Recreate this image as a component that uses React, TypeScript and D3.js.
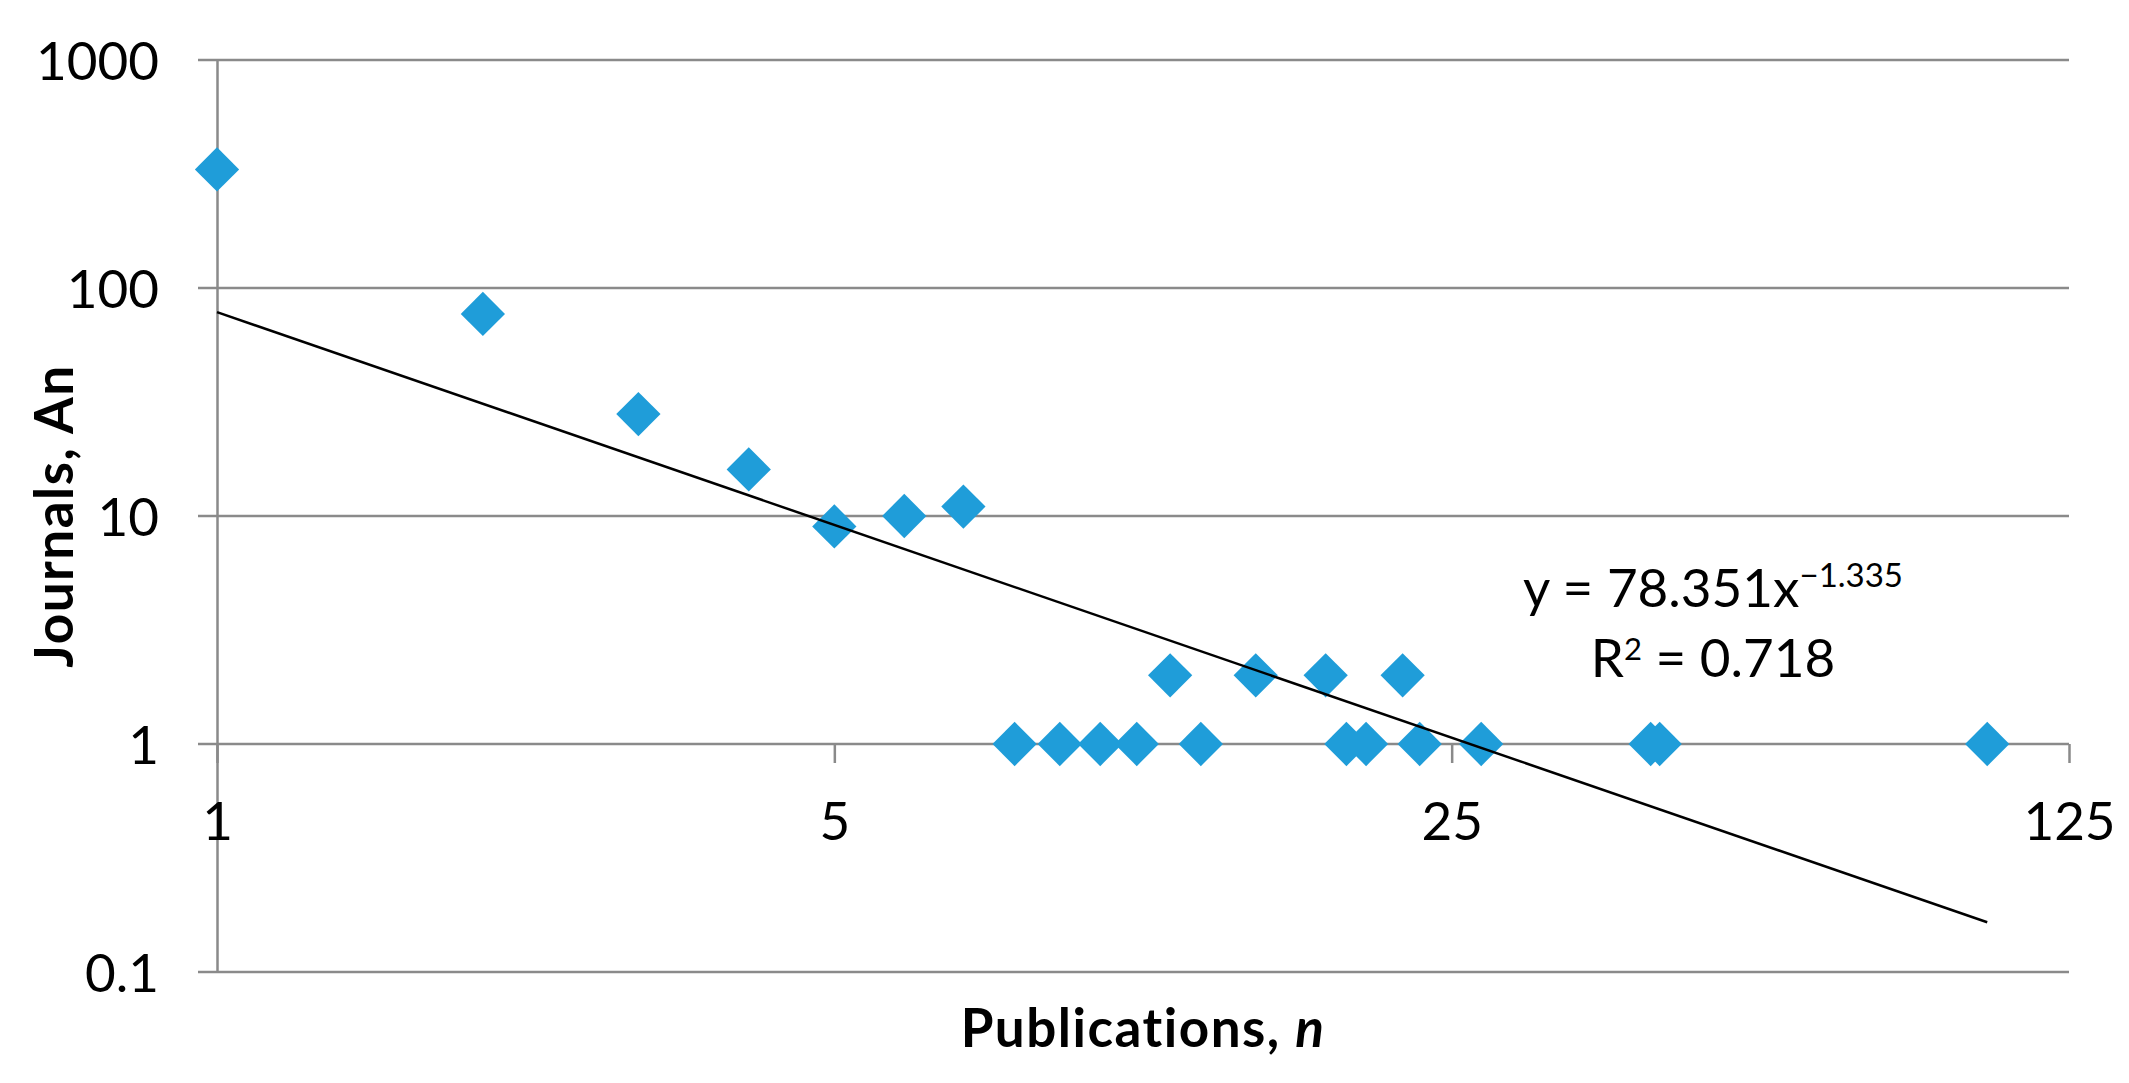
import React, { useEffect, useRef } from "react";
import * as d3 from "d3";

// values
const publications = [1, 2, 3, 4, 5, 6, 7, 8, 9, 10, 11, 12, 13, 15, 18, 19, 20, 22, 23, 27, 42, 43, 101];
const journals = [331, 77, 28, 16, 9, 10, 11, 1, 1, 1, 1, 2, 1, 2, 2, 1, 1, 2, 1, 1, 1, 1, 1];
const xTicks = [1, 5, 25, 125];
const yTicks = [0.1, 1, 10, 100, 1000];
// power trendline shown on the chart
const fitCoef = 78.351;
const fitExp = -1.335;
const fitR2 = 0.718;

const FONT = "Lato, 'Open Sans', sans-serif";

const App = () => {
  const svgRef = useRef<SVGSVGElement>(null);

  useEffect(() => {
    const svg = d3.select(svgRef.current);
    svg.selectAll("*").remove();

    const width = 2129;
    const height = 1083;
    const margin = { top: 60, right: 60, bottom: 111, left: 217 };
    const grid = "#8a8a8a";

    svg.attr("width", width).attr("height", height)
      .style("font-variant-ligatures", "none");

    const x = d3.scaleLog().base(5)
      .domain([1, 125])
      .range([margin.left, width - margin.right]);

    const y = d3.scaleLog()
      .domain([0.1, 1000])
      .range([height - margin.bottom, margin.top]);

    // horizontal gridlines (they also carry the left tick marks)
    svg.append("g")
      .selectAll("line")
      .data(yTicks)
      .join("line")
      .attr("x1", margin.left - 19)
      .attr("x2", width - margin.right)
      .attr("y1", d => y(d))
      .attr("y2", d => y(d))
      .attr("stroke", grid)
      .attr("stroke-width", 2.5);

    // y axis
    const yAxis = svg.append("g")
      .attr("transform", `translate(${margin.left},0)`)
      .call(d3.axisLeft(y).tickValues(yTicks).tickFormat(d => String(d)).tickSizeInner(0).tickSizeOuter(0));
    yAxis.select(".domain").attr("stroke", grid).attr("stroke-width", 2.5);
    yAxis.selectAll(".tick line").remove();
    yAxis.selectAll("text")
      .attr("x", -58)
      .attr("dy", "0.36em")
      .style("font-family", FONT)
      .style("font-size", "53px")
      .style("fill", "#000");

    // x axis crosses at y = 1
    const xAxis = svg.append("g")
      .attr("transform", `translate(0,${y(1)})`)
      .call(d3.axisBottom(x).tickValues(xTicks).tickFormat(d => String(d)).tickSizeInner(19).tickSizeOuter(0));
    xAxis.select(".domain").remove();
    xAxis.selectAll(".tick line").attr("stroke", grid).attr("stroke-width", 2.5);
    xAxis.selectAll("text")
      .attr("y", 96)
      .attr("dy", 0)
      .style("font-family", FONT)
      .style("font-size", "53px")
      .style("fill", "#000");

    // points
    const data = publications.map((n, i) => ({ n, a: journals[i] }));
    svg.append("g")
      .selectAll("path")
      .data(data)
      .join("path")
      .attr("d", d3.symbol(d3.symbolSquare, 980)())
      .attr("transform", d => `translate(${x(d.n)},${y(d.a)}) rotate(45)`)
      .attr("fill", "#1f9dd9");

    // trendline over the data range
    const fitRange = [d3.min(publications) as number, d3.max(publications) as number];
    const fitLine = d3.line<number>()
      .x(d => x(d))
      .y(d => y(fitCoef * Math.pow(d, fitExp)));
    svg.append("path")
      .datum(fitRange)
      .attr("d", fitLine)
      .attr("fill", "none")
      .attr("stroke", "#000")
      .attr("stroke-width", 2.5);

    // equation label
    const eqX = 1713;
    const eq1 = svg.append("text")
      .attr("x", eqX)
      .attr("y", 607)
      .attr("text-anchor", "middle")
      .style("font-family", FONT)
      .style("font-size", "53px")
      .style("fill", "#000");
    eq1.append("tspan").text(`y = ${fitCoef}x`);
    eq1.append("tspan").attr("dy", -20).style("font-size", "33px").text(`\u2212${Math.abs(fitExp)}`);

    const eq2 = svg.append("text")
      .attr("x", eqX)
      .attr("y", 677)
      .attr("text-anchor", "middle")
      .style("font-family", FONT)
      .style("font-size", "53px")
      .style("fill", "#000");
    eq2.append("tspan").text("R");
    eq2.append("tspan").attr("dy", -17).style("font-size", "31px").text("2");
    eq2.append("tspan").attr("dy", 17).text(` = ${fitR2}`);

    // axis titles
    const xTitle = svg.append("text")
      .attr("x", (margin.left + width - margin.right) / 2)
      .attr("y", 1047)
      .attr("text-anchor", "middle")
      .style("font-family", FONT)
      .style("font-size", "53px")
      .style("font-weight", "bold")
      .style("letter-spacing", "1.5px")
      .style("fill", "#000");
    xTitle.append("tspan").text("Publications, ");
    xTitle.append("tspan").style("font-style", "italic").text("n");

    svg.append("text")
      .attr("transform", `translate(73,${(margin.top + height - margin.bottom) / 2}) rotate(-90)`)
      .attr("text-anchor", "middle")
      .style("font-family", FONT)
      .style("font-size", "53px")
      .style("font-weight", "bold")
      .style("letter-spacing", "1.5px")
      .style("fill", "#000")
      .text("Journals, An");
  }, []);

  return (
    <svg
      ref={svgRef}
      style={{ position: "absolute", left: 0, top: 0, background: "#fff" }}
    />
  );
};

export default App;
